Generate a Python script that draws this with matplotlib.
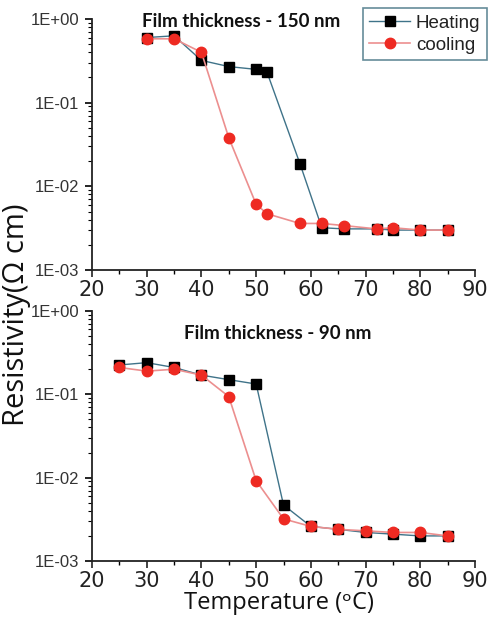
import matplotlib
matplotlib.use("Agg")
import matplotlib.pyplot as plt
from matplotlib.ticker import FixedLocator, LogLocator, NullFormatter

# ---- data ----
t150 = [30, 35, 40, 45, 50, 52, 58, 62, 66, 72, 75, 80, 85]
heat150 = [0.60, 0.63, 0.32, 0.27, 0.25, 0.23, 0.0187, 0.0032, 0.0031, 0.0031, 0.0030, 0.0030, 0.0030]
cool150 = [0.58, 0.58, 0.40, 0.038, 0.0061, 0.0047, 0.0036, 0.0036, 0.0034, 0.0031, 0.0032, 0.0030, 0.0030]

t90 = [25, 30, 35, 40, 45, 50, 55, 60, 65, 70, 75, 80, 85]
heat90 = [0.225, 0.24, 0.21, 0.17, 0.15, 0.133, 0.0047, 0.0026, 0.0024, 0.0022, 0.0021, 0.0020, 0.0020]
cool90 = [0.21, 0.19, 0.20, 0.17, 0.094, 0.0092, 0.0032, 0.0026, 0.0024, 0.0023, 0.0022, 0.0022, 0.0020]

titles = ["Film thickness - 150 nm", "Film thickness - 90 nm"]
series_labels = ["Heating", "cooling"]
x_ticks = [20, 30, 40, 50, 60, 70, 80, 90]
x_minor = [25, 35, 45, 55, 65, 75, 85]
y_ticks = [1e-3, 1e-2, 1e-1, 1e0]
y_ticklabels = ["1E-03", "1E-02", "1E-01", "1E+00"]

heat_line = "#3f7389"
cool_line = "#ec8f8f"
cool_mark = "#ee2a22"

W, H = 491, 624
fig = plt.figure(figsize=(W / 100, H / 100), dpi=100)

def fx(px):
    return px / W

def fy(py):
    return 1 - py / H

ax1 = fig.add_axes([fx(92), fy(270), fx(475) - fx(92), fy(19) - fy(270)])
ax2 = fig.add_axes([fx(92), fy(561), fx(475) - fx(92), fy(311) - fy(561)])

datasets = [(ax1, t150, heat150, cool150), (ax2, t90, heat90, cool90)]
for i, (ax, t, h, c) in enumerate(datasets):
    ax.set_yscale("log")
    ax.plot(t, h, color=heat_line, lw=1.0, marker="s", ms=7, mfc="black",
            mec="black", label=series_labels[0], zorder=2)
    ax.plot(t, c, color=cool_line, lw=1.2, marker="o", ms=7.5, mfc=cool_mark,
            mec=cool_mark, label=series_labels[1], zorder=3)
    ax.set_xlim(20, 90)
    ax.set_ylim(1e-3, 1)
    for s in ["top", "right"]:
        ax.spines[s].set_visible(False)
    for s in ["left", "bottom"]:
        ax.spines[s].set_linewidth(1.3)
        ax.spines[s].set_color("#222222")
    ax.xaxis.set_major_locator(FixedLocator(x_ticks))
    ax.xaxis.set_minor_locator(FixedLocator(x_minor))
    ax.yaxis.set_major_locator(FixedLocator(y_ticks))
    ax.set_yticklabels(y_ticklabels)
    ax.yaxis.set_minor_locator(LogLocator(base=10, subs=range(2, 10)))
    ax.yaxis.set_minor_formatter(NullFormatter())
    ax.tick_params(axis="x", which="major", direction="out", length=5, width=1.2,
                   labelsize=15, pad=2, colors="#222222")
    ax.tick_params(axis="x", which="minor", direction="out", length=3, width=1.0)
    ax.tick_params(axis="y", which="major", direction="out", length=5, width=1.2,
                   labelsize=12, pad=4, labelcolor="#333333")
    ax.tick_params(axis="y", which="minor", direction="out", length=3, width=0.8)
    for lab in ax.get_xticklabels():
        lab.set_family("DejaVu Sans")
    for lab in ax.get_yticklabels():
        lab.set_family("Liberation Sans")

ax1.text(0.39, 0.99, titles[0], transform=ax1.transAxes, ha="center", va="center",
         fontsize=13.5, fontweight="bold", family="Lato", color="#111111")
ax2.text(0.486, 0.91, titles[1], transform=ax2.transAxes, ha="center", va="center",
         fontsize=13.5, fontweight="bold", family="Lato", color="#111111")

leg = ax1.legend(loc="upper right", bbox_to_anchor=(fx(487), fy(8)),
                 bbox_transform=fig.transFigure, fontsize=13.5, frameon=True,
                 fancybox=False, handlelength=2.2, borderpad=0.35,
                 labelspacing=0.25, handletextpad=0.3, borderaxespad=0)
leg.get_frame().set_edgecolor("#3f6f80")
leg.get_frame().set_linewidth(1.2)
for txt in leg.get_texts():
    txt.set_family("Liberation Sans")
    txt.set_color("#222222")

fig.text(fx(17), fy(315), "Resistivity(\u03a9 cm)", rotation=90, ha="center", va="center",
         fontsize=21, family=["Open Sans", "DejaVu Sans"], color="#111111")
fig.text(fx(279), fy(603), "Temperature (\u1d52C)", ha="center", va="center",
         fontsize=17, family=["Open Sans", "DejaVu Sans"], color="#111111")

fig.savefig("out.png", dpi=100)
